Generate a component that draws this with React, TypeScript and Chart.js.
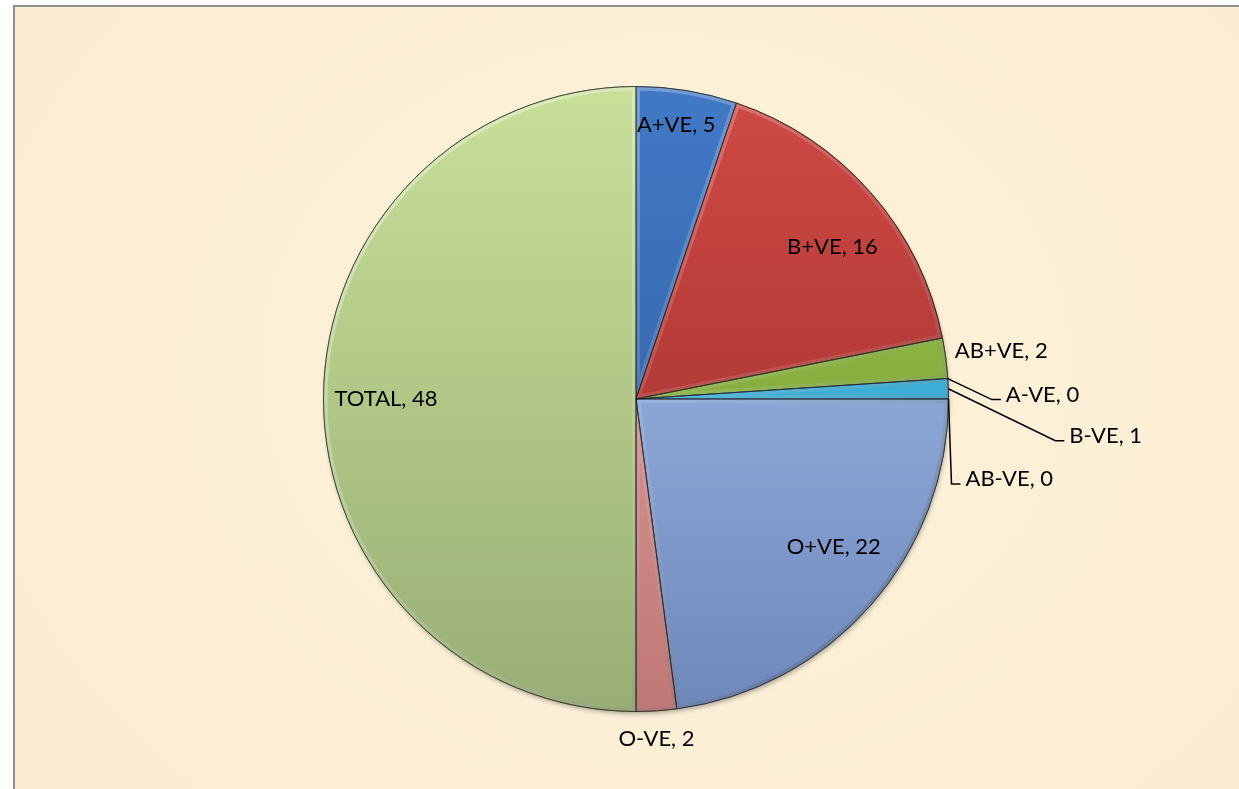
import React, { useEffect, useRef } from "react";
import { Chart, registerables } from "chart.js";

Chart.register(...registerables);

const categories = ["A+VE", "B+VE", "AB+VE", "A-VE", "B-VE", "AB-VE", "O+VE", "O-VE", "TOTAL"];
const values = [5, 16, 2, 0, 1, 0, 22, 2, 48];
const topColors = ["#4279c6", "#d04a45", "#9cc84e", "#8064a2", "#4ec4ec", "#f79646", "#a8c4f0", "#e8a8a6", "#c8e098"];
const bottomColors = ["#2c5a98", "#962a28", "#6f9430", "#5c4680", "#2a98c0", "#c06a20", "#6f88bb", "#c07876", "#98ae76"];
const borderColors = ["#1f3e68", "#5e1a18", "#45601a", "#3a2c52", "#185a74", "#7a400c", "#3e537a", "#704442", "#56663e"];

// label placement: inside (radius fraction, angle shift in degrees) or outside (offset from arc edge)
type LabelCfg = { kind: "in"; rf: number; da: number } | { kind: "out"; dx: number; dy: number; leader: boolean };
const labelCfg: LabelCfg[] = [
  { kind: "in", rf: 0.885, da: -1 },
  { kind: "in", rf: 0.795, da: 3.5 },
  { kind: "out", dx: 9, dy: -7, leader: false },
  { kind: "out", dx: 44, dy: 21, leader: true },
  { kind: "out", dx: 107, dy: 52, leader: true },
  { kind: "out", dx: 3, dy: 85, leader: true },
  { kind: "in", rf: 0.79, da: -4.5 },
  { kind: "out", dx: 0, dy: 28, leader: false },
  { kind: "in", rf: 0.8, da: 0 },
];

const FONT = "22px Lato, 'Open Sans', sans-serif";

const shadowPlugin = {
  id: "pieShadow",
  beforeDatasetsDraw(chart: any) {
    const arc = chart.getDatasetMeta(0).data[0];
    if (!arc) return;
    const { x, y, outerRadius } = arc.getProps(["x", "y", "outerRadius"], true);
    const ctx = chart.ctx;
    ctx.save();
    ctx.shadowColor = "rgba(0,0,0,0.35)";
    ctx.shadowBlur = 5;
    ctx.shadowOffsetX = 1;
    ctx.shadowOffsetY = 3;
    ctx.fillStyle = "#999";
    ctx.beginPath();
    ctx.arc(x, y, outerRadius - 1, 0, Math.PI * 2);
    ctx.fill();
    ctx.restore();
  },
};

const bevelPlugin = {
  id: "pieBevel",
  afterDatasetsDraw(chart: any) {
    const ctx = chart.ctx;
    const meta = chart.getDatasetMeta(0);
    meta.data.forEach((arc: any) => {
      const { x, y, startAngle, endAngle, outerRadius } = arc.getProps(["x", "y", "startAngle", "endAngle", "outerRadius"], true);
      if (endAngle - startAngle < 1e-6) return;
      ctx.save();
      ctx.beginPath();
      ctx.moveTo(x, y);
      ctx.arc(x, y, outerRadius, startAngle, endAngle);
      ctx.closePath();
      ctx.clip();
      const g = ctx.createLinearGradient(x - outerRadius, y - outerRadius, x + outerRadius, y + outerRadius);
      g.addColorStop(0, "rgba(255,255,255,0.45)");
      g.addColorStop(0.5, "rgba(255,255,255,0.12)");
      g.addColorStop(1, "rgba(0,0,0,0.3)");
      ctx.strokeStyle = g;
      ctx.lineWidth = 8;
      ctx.lineJoin = "round";
      ctx.stroke();
      ctx.restore();
      ctx.save();
      ctx.beginPath();
      ctx.moveTo(x, y);
      ctx.arc(x, y, outerRadius, startAngle, endAngle);
      ctx.closePath();
      ctx.strokeStyle = "rgba(30,30,30,0.55)";
      ctx.lineWidth = 1;
      ctx.stroke();
      ctx.restore();
    });
  },
};

const labelPlugin = {
  id: "pieLabels",
  afterDatasetsDraw(chart: any) {
    const ctx = chart.ctx;
    const meta = chart.getDatasetMeta(0);
    ctx.save();
    ctx.font = FONT;
    ctx.fillStyle = "#000";
    ctx.strokeStyle = "#000";
    ctx.lineWidth = 1.5;
    meta.data.forEach((arc: any, i: number) => {
      const { x, y, startAngle, endAngle, outerRadius } = arc.getProps(["x", "y", "startAngle", "endAngle", "outerRadius"], true);
      const mid = (startAngle + endAngle) / 2;
      const text = `${categories[i]}, ${values[i]}`;
      const cfg = labelCfg[i];
      if (cfg.kind === "in") {
        const a = mid + (cfg.da * Math.PI) / 180;
        const lx = x + Math.cos(a) * outerRadius * cfg.rf;
        const ly = y + Math.sin(a) * outerRadius * cfg.rf;
        ctx.textAlign = "center";
        ctx.textBaseline = "middle";
        ctx.fillText(text, lx, ly);
      } else {
        const ex = x + Math.cos(mid) * outerRadius;
        const ey = y + Math.sin(mid) * outerRadius;
        const px = ex + cfg.dx;
        const py = ey + cfg.dy;
        if (cfg.leader) {
          ctx.beginPath();
          ctx.moveTo(ex, ey);
          ctx.lineTo(px, py);
          ctx.lineTo(px + 9, py);
          ctx.stroke();
          ctx.textAlign = "left";
          ctx.textBaseline = "middle";
          ctx.fillText(text, px + 14, py - 5);
        } else {
          ctx.textAlign = Math.cos(mid) > 0.3 ? "left" : "center";
          ctx.textBaseline = "middle";
          ctx.fillText(text, px, py);
        }
      }
    });
    ctx.restore();
  },
};

export default function App() {
  const ref = useRef<HTMLCanvasElement>(null);
  useEffect(() => {
    if (!ref.current) return;
    const chart = new Chart(ref.current, {
      type: "pie",
      data: {
        labels: categories,
        datasets: [
          {
            data: values,
            backgroundColor: (c: any) => {
              const ch = c.chart;
              const area = ch.chartArea;
              if (!area) return topColors[c.dataIndex];
              const g = ch.ctx.createLinearGradient(0, area.top, 0, area.bottom);
              g.addColorStop(0, topColors[c.dataIndex]);
              g.addColorStop(1, bottomColors[c.dataIndex]);
              return g;
            },
            borderColor: borderColors,
            borderWidth: 1,
          },
        ],
      },
      options: {
        responsive: false,
        animation: false,
        layout: { padding: { top: 86, bottom: 77, left: 323, right: 290 } },
        plugins: {
          legend: { display: false },
          tooltip: { enabled: false },
        },
      },
      plugins: [shadowPlugin, bevelPlugin, labelPlugin],
    });
    return () => chart.destroy();
  }, []);
  return (
    <div style={{ position: "fixed", left: 0, top: 0, width: 1239, height: 789, background: "#fff", overflow: "hidden" }}>
      <div
        style={{
          position: "absolute",
          left: 13,
          top: 5,
          width: 1300,
          height: 900,
          border: "2px solid #8f8f8f",
          background: "radial-gradient(ellipse at 50% 40%, #fdf2da 0%, #fbeed3 70%, #f9ebce 100%)",
        }}
      />
      <canvas ref={ref} width={1239} height={789} style={{ position: "absolute", left: 0, top: 0 }} />
    </div>
  );
}
